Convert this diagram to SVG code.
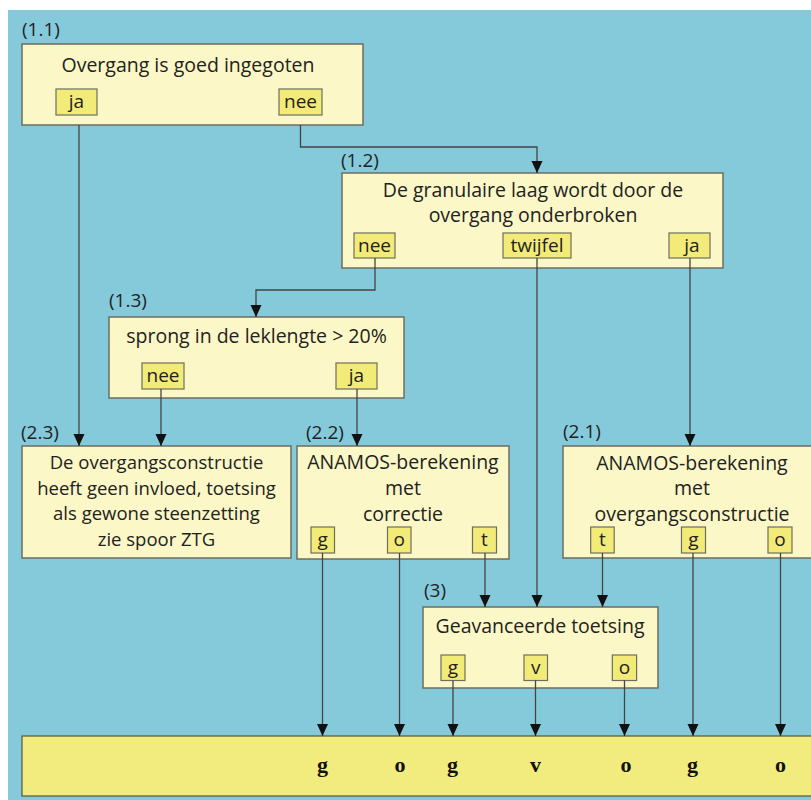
<svg xmlns="http://www.w3.org/2000/svg" width="811" height="800" viewBox="0 0 811 800">
<defs>
<marker id="ah" markerUnits="userSpaceOnUse" markerWidth="12" markerHeight="12" refX="12" refY="5.5" orient="auto">
<path d="M0,0 L12,5.5 L0,11 z" fill="#111"/>
</marker>
<style>
.bg{fill:#85cadb}
.box{fill:#fbf7c6;stroke:#6e6e60;stroke-width:1.5}
.lb{fill:#f3eb78;stroke:#6e6e60;stroke-width:1.2}
.bar{fill:#f2ec7e;stroke:#55553c;stroke-width:1.2}
text{font-family:"Open Sans","DejaVu Sans",sans-serif;font-size:19.5px;fill:#222}
.c{text-anchor:middle}
.l{font-size:19px}
.n{font-size:19px}
.s{font-size:18.5px}
.r{font-family:"Liberation Serif",serif;font-weight:bold;font-size:22px;text-anchor:middle;fill:#111}
.cn path{fill:none;stroke:#444;stroke-width:1.3;marker-end:url(#ah)}
</style>
</defs>
<rect x="0" y="0" width="811" height="800" fill="#ffffff"/>
<rect class="bg" x="8" y="10" width="810" height="800"/>

<g id="n11">
<text class="n" x="22" y="36">(1.1)</text>
<rect class="box" x="22" y="44" width="341" height="81"/>
<text class="c" x="188" y="72">Overgang is goed ingegoten</text>
<rect class="lb" x="56" y="89" width="41" height="26"/>
<text class="c l" x="76.5" y="108">ja</text>
<rect class="lb" x="279" y="89" width="43" height="26"/>
<text class="c l" x="300.5" y="108">nee</text>
</g>

<g id="n12">
<text class="n" x="341" y="167">(1.2)</text>
<rect class="box" x="342" y="173" width="381" height="95"/>
<text class="c" x="533" y="197">De granulaire laag wordt door de</text>
<text class="c" x="533" y="222">overgang onderbroken</text>
<rect class="lb" x="354" y="233" width="41" height="25"/>
<text class="c l" x="374.5" y="252">nee</text>
<rect class="lb" x="503" y="233" width="68" height="25"/>
<text class="c l" x="537" y="252">twijfel</text>
<rect class="lb" x="669" y="233" width="41" height="25"/>
<text class="c l" x="692" y="252">ja</text>
</g>

<g id="n13">
<text class="n" x="109" y="307">(1.3)</text>
<rect class="box" x="109" y="317" width="295" height="81"/>
<text class="c" x="256.5" y="343">sprong in de leklengte &gt; 20%</text>
<rect class="lb" x="142" y="363" width="42" height="26"/>
<text class="c l" x="163" y="382">nee</text>
<rect class="lb" x="336" y="363" width="41" height="26"/>
<text class="c l" x="356.5" y="382">ja</text>
</g>

<g id="n23">
<text class="n" x="21" y="439">(2.3)</text>
<rect class="box" x="22" y="446" width="269" height="112"/>
<text class="c s" x="156.5" y="469">De overgangsconstructie</text>
<text class="c s" x="156.5" y="494.5">heeft geen invloed, toetsing</text>
<text class="c s" x="156.5" y="520">als gewone steenzetting</text>
<text class="c s" x="156.5" y="545.5">zie spoor ZTG</text>
</g>

<g id="n22">
<text class="n" x="306" y="439">(2.2)</text>
<rect class="box" x="297" y="446" width="212" height="113"/>
<text class="c" x="403" y="469">ANAMOS-berekening</text>
<text class="c" x="403" y="495">met</text>
<text class="c" x="403" y="520.5">correctie</text>
<rect class="lb" x="311" y="527" width="23.5" height="26"/>
<text class="c l" x="322.7" y="546">g</text>
<rect class="lb" x="387.5" y="527" width="23.5" height="26"/>
<text class="c l" x="399.2" y="546">o</text>
<rect class="lb" x="472.5" y="527" width="24" height="26"/>
<text class="c l" x="484.5" y="546">t</text>
</g>

<g id="n21">
<text class="n" x="563" y="438">(2.1)</text>
<rect class="box" x="563" y="446" width="260" height="112"/>
<text class="c" x="692" y="469.5">ANAMOS-berekening</text>
<text class="c" x="692" y="495">met</text>
<text class="c" x="692" y="520.5">overgangsconstructie</text>
<rect class="lb" x="590.7" y="527" width="23.5" height="26"/>
<text class="c l" x="602.5" y="546">t</text>
<rect class="lb" x="681.5" y="527" width="24" height="26"/>
<text class="c l" x="693.5" y="546">g</text>
<rect class="lb" x="768" y="527" width="24" height="26"/>
<text class="c l" x="780" y="546">o</text>
</g>

<g id="n3">
<text class="n" x="424" y="597">(3)</text>
<rect class="box" x="423" y="607" width="235" height="81"/>
<text class="c" x="540" y="633">Geavanceerde toetsing</text>
<rect class="lb" x="441" y="655" width="24" height="25.5"/>
<text class="c l" x="453" y="674">g</text>
<rect class="lb" x="524" y="655" width="23.5" height="25.5"/>
<text class="c l" x="535.7" y="674">v</text>
<rect class="lb" x="612.3" y="655" width="24.3" height="25.5"/>
<text class="c l" x="624.5" y="674">o</text>
</g>

<g id="result">
<rect class="bar" x="22" y="736" width="800" height="60"/>
<text class="r" x="322.5" y="772">g</text>
<text class="r" x="400" y="772">o</text>
<text class="r" x="452.5" y="772">g</text>
<text class="r" x="535.5" y="772">v</text>
<text class="r" x="626" y="772">o</text>
<text class="r" x="692.5" y="772">g</text>
<text class="r" x="780.5" y="772">o</text>
</g>

<g id="connectors" class="cn">
<path d="M79,125 V446"/>
<path d="M300.5,125 V147 H537 V173"/>
<path d="M375,258 V290 H256 V317"/>
<path d="M537,258 V607"/>
<path d="M690,258 V446"/>
<path d="M161,389 V446"/>
<path d="M357,389 V446"/>
<path d="M322.5,553 V736"/>
<path d="M399.5,553 V736"/>
<path d="M485,553 V607"/>
<path d="M602.5,553 V607"/>
<path d="M693,553 V736"/>
<path d="M780.5,553 V736"/>
<path d="M453,680.5 V736"/>
<path d="M535.5,680.5 V736"/>
<path d="M624.5,680.5 V736"/>
</g>
</svg>
